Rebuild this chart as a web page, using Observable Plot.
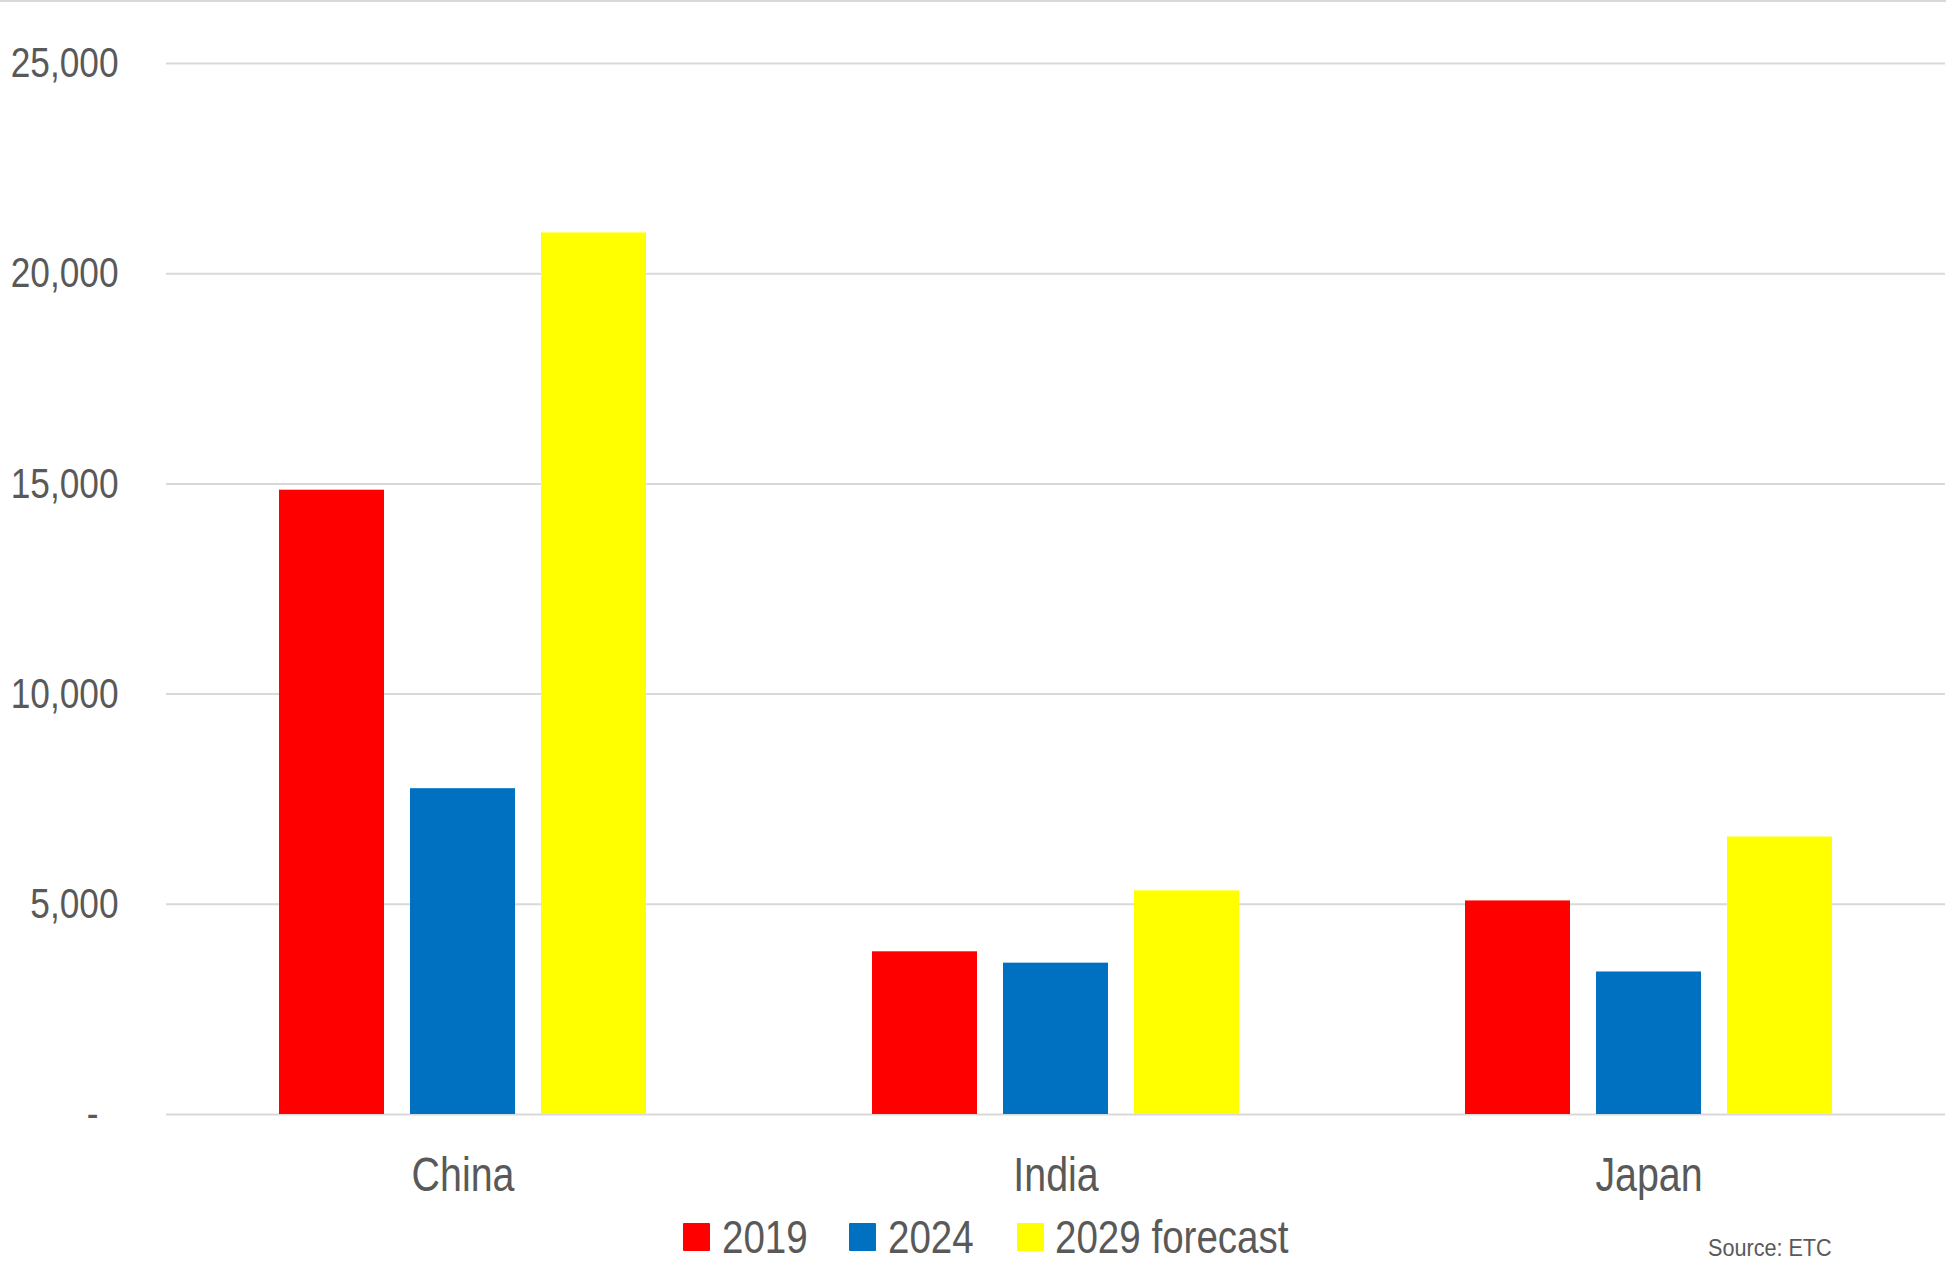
<!DOCTYPE html>
<html>
<head>
<meta charset="utf-8">
<script src="https://cdn.jsdelivr.net/npm/d3@7"></script>
<script src="https://cdn.jsdelivr.net/npm/@observablehq/plot@0.6"></script>
<style>
  html, body { margin: 0; padding: 0; background: #fff; }
  body {
    width: 1946px; height: 1287px; position: relative; overflow: hidden;
    font-family: "Liberation Sans", Arial, sans-serif;
    color: #595959;
  }
  #topline { position: absolute; left: 0; top: 0; width: 1946px; height: 2px; background: #d9d9d9; }
  #chart { position: absolute; left: 0; top: 0; }
  .sw { position: absolute; top: 1223px; width: 27px; height: 28px; border-radius: 1px; }
  .lt {
    position: absolute; top: 1236px; font-size: 47px; line-height: 1; white-space: nowrap;
    transform: translateY(-50%) scaleX(0.82); transform-origin: left center;
  }
  #source {
    position: absolute; left: 1708px; top: 1236px; font-size: 24px; line-height: 1; white-space: nowrap;
    transform: scaleX(0.9); transform-origin: left top;
  }
</style>
</head>
<body>
<div id="topline"></div>
<div id="chart"></div>
<div id="legend"></div>
<div id="source">Source: ETC</div>
<script>
const countries = ["China", "India", "Japan"];
const years = ["2019", "2024", "2029 forecast"];
const v2019 = [14850, 3870, 5080];
const v2024 = [7750, 3600, 3390];
const v2029 = [20970, 5320, 6600];
const colors = ["#FF0000", "#0070C0", "#FFFF00"];
const yTicks = [0, 5000, 10000, 15000, 20000, 25000];

const series = [v2019, v2024, v2029];
const data = countries.flatMap((c, i) =>
  years.map((y, j) => ({ country: c, year: y, value: series[j][i] }))
);

const chart = Plot.plot({
  width: 1946,
  height: 1200,
  marginLeft: 165,
  marginRight: 0,
  marginTop: 63,
  marginBottom: 86,
  style: {
    fontFamily: '"Liberation Sans", Arial, sans-serif',
    color: "#595959",
    background: "transparent"
  },
  fx: { domain: countries, padding: 0, label: null },
  x: { domain: years, paddingInner: 0.2, paddingOuter: 0.85, axis: null },
  y: { domain: [0, 25000], label: null },
  color: { type: "ordinal", domain: years, range: colors },
  marks: [
    Plot.gridY(yTicks, { stroke: "#d9d9d9", strokeOpacity: 1, strokeWidth: 2 }),
    Plot.barY(data, { fx: "country", x: "year", y: "value", fill: "year" }),
    Plot.axisY(yTicks.filter(d => d > 0), {
      tickSize: 0, tickPadding: 48, tickFormat: d3.format(","), fontSize: 43, label: null
    }),
    Plot.axisY([0], {
      tickSize: 0, tickPadding: 68, tickFormat: () => "-", fontSize: 43, label: null
    }),
    Plot.axisFx({ anchor: "bottom", tickSize: 0, tickPadding: 42, fontSize: 48, label: null })
  ]
});

// Narrow (Arial Narrow-like) text: squeeze each label horizontally around its anchor point
chart.querySelectorAll("text").forEach(el => {
  const x = +el.getAttribute("x") || 0;
  const t = el.getAttribute("transform") || "";
  el.setAttribute("transform", `${t} translate(${x},0) scale(0.82,1) translate(${-x},0)`);
});
document.getElementById("chart").appendChild(chart);

// Legend (HTML, below the SVG)
const legend = document.getElementById("legend");
const swX = [683, 849, 1017];
const txX = [722, 888, 1055];
years.forEach((y, i) => {
  const sw = document.createElement("div");
  sw.className = "sw";
  sw.style.left = swX[i] + "px";
  sw.style.background = colors[i];
  const t = document.createElement("div");
  t.className = "lt";
  t.style.left = txX[i] + "px";
  t.textContent = y;
  legend.appendChild(sw);
  legend.appendChild(t);
});
</script>
</body>
</html>
